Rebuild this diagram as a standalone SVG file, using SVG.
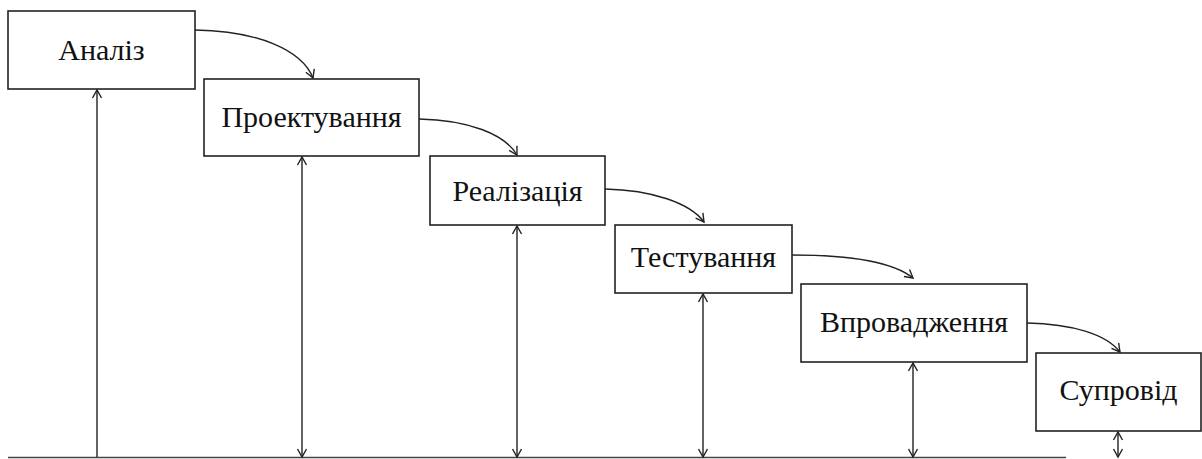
<svg xmlns="http://www.w3.org/2000/svg" width="1202" height="459" viewBox="0 0 1202 459">
<style>
.box{fill:#fff;stroke:#222;stroke-width:1.6}
.lbl{font-family:"Liberation Serif","DejaVu Serif",serif;font-size:30px;fill:#111;text-anchor:middle}
.con{fill:none;stroke:#222;stroke-width:1.4}
.base{fill:none;stroke:#444;stroke-width:1.6}
</style>
<defs>
<marker id="ah" markerUnits="userSpaceOnUse" markerWidth="14" markerHeight="14" viewBox="-10 -7 12 14" refX="0" refY="0" orient="auto-start-reverse">
<path d="M-8,-4.5 L0,0 L-8,4.5" fill="none" stroke="#222" stroke-width="1.4"/>
</marker>
</defs>
<rect width="1202" height="459" fill="#fff"/>
<g id="connectors">
<path class="base" d="M8,457.5 H1066"/>
<path class="con" d="M195,30 C258,31 302,50 313,78" marker-end="url(#ah)"/>
<path class="con" d="M419,119 C468,120 505,134 517,155" marker-end="url(#ah)"/>
<path class="con" d="M605,189 C652,190 690,203 704,222" marker-end="url(#ah)"/>
<path class="con" d="M792,255 C850,255 893,262 913,278" marker-end="url(#ah)"/>
<path class="con" d="M1027,323 C1072,324 1106,334 1120,352" marker-end="url(#ah)"/>
<path class="con" d="M97,457 V90" marker-end="url(#ah)"/>
<path class="con" d="M302,157 V457" marker-start="url(#ah)" marker-end="url(#ah)"/>
<path class="con" d="M517,226 V457" marker-start="url(#ah)" marker-end="url(#ah)"/>
<path class="con" d="M703,294 V457" marker-start="url(#ah)" marker-end="url(#ah)"/>
<path class="con" d="M913,363 V457" marker-start="url(#ah)" marker-end="url(#ah)"/>
<path class="con" d="M1118,432 V457" marker-start="url(#ah)" marker-end="url(#ah)"/>
</g>
<g id="n1"><rect class="box" x="8" y="11" width="187" height="78"/><text class="lbl" x="101.5" y="60">Аналіз</text></g>
<g id="n2"><rect class="box" x="204" y="79" width="215" height="77"/><text class="lbl" x="311.5" y="127">Проектування</text></g>
<g id="n3"><rect class="box" x="430" y="156" width="175" height="69"/><text class="lbl" x="517.5" y="201">Реалізація</text></g>
<g id="n4"><rect class="box" x="615" y="225" width="177" height="68"/><text class="lbl" x="703.5" y="267">Тестування</text></g>
<g id="n5"><rect class="box" x="801" y="284" width="226" height="78"/><text class="lbl" x="914" y="332">Впровадження</text></g>
<g id="n6"><rect class="box" x="1036" y="353" width="165" height="78"/><text class="lbl" x="1118.5" y="400">Супровід</text></g>
</svg>
